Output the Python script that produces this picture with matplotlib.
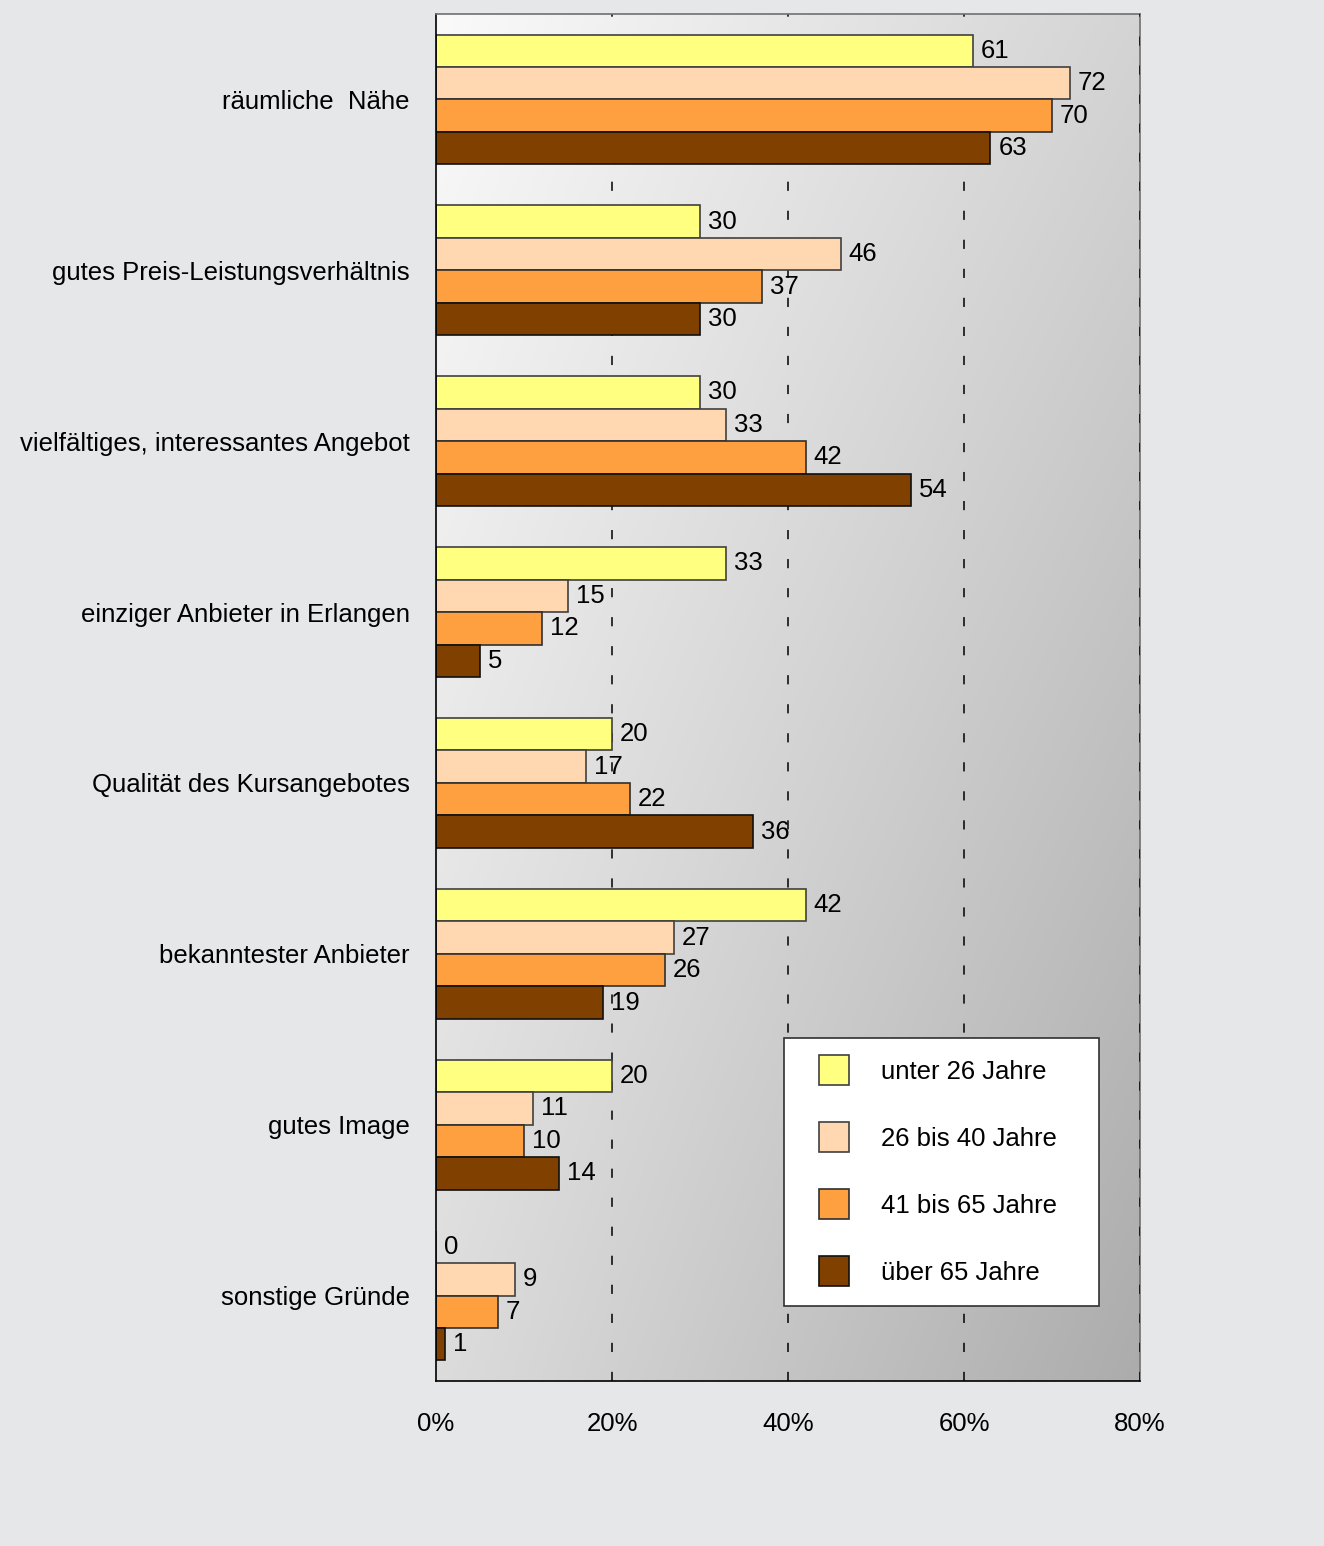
import numpy as np
import matplotlib
matplotlib.use("Agg")
import matplotlib.pyplot as plt
from matplotlib.lines import Line2D

plt.rcParams['font.family'] = ['Liberation Sans', 'DejaVu Sans']

categories = [
    "räumliche  Nähe",
    "gutes Preis-Leistungsverhältnis",
    "vielfältiges, interessantes Angebot",
    "einziger Anbieter in Erlangen",
    "Qualität des Kursangebotes",
    "bekanntester Anbieter",
    "gutes Image",
    "sonstige Gründe",
]
series_names = ["unter 26 Jahre", "26 bis 40 Jahre", "41 bis 65 Jahre", "über 65 Jahre"]
unter_26 = [61, 30, 30, 33, 20, 42, 20, 0]
von_26_bis_40 = [72, 46, 33, 15, 17, 27, 11, 9]
von_41_bis_65 = [70, 37, 42, 12, 22, 26, 10, 7]
ueber_65 = [63, 30, 54, 5, 36, 19, 14, 1]
series_values = [unter_26, von_26_bis_40, von_41_bis_65, ueber_65]
x_ticks = [0, 20, 40, 60, 80]
x_tick_labels = ["0%", "20%", "40%", "60%", "80%"]

colors = ["#ffff80", "#ffd8b2", "#ffa040", "#804000"]
edge_colors = ["#404040", "#404040", "#303030", "#101010"]
FS = 18.5

W, H = 1324, 1546
fig = plt.figure(figsize=(W / 100, H / 100), dpi=100, facecolor="#e6e7e9")
ax = fig.add_axes([436 / W, 1 - 1381 / H, (1140 - 436) / W, (1381 - 14) / H])
ax.set_facecolor("none")

# diagonal grey gradient behind the plot area
gx, gy = np.meshgrid(np.linspace(0, 1, 200), np.linspace(0, 1, 400))
grad = 250 - 38 * gx - 30 * gy - 10 * gx * gy
img = np.dstack([grad, grad, grad]) / 255.0
ax.imshow(img, extent=[0, 1, 0, 1], transform=ax.transAxes, aspect="auto",
          zorder=0, origin="upper", interpolation="bilinear")

n_groups = len(categories)
bar_h = 0.19
y_centers = np.arange(n_groups)

# dashed vertical grid lines (the outermost one sits on top of the right spine)
for xv in x_ticks[1:]:
    z = 3 if xv == x_ticks[-1] else 1
    ax.axvline(xv, color="black", lw=1.1, ls=(0, (6, 13)), zorder=z)

for i, (vals, col, ec) in enumerate(zip(series_values, colors, edge_colors)):
    offs = (i - 1.5) * bar_h
    ys = y_centers + offs
    ax.barh(ys, vals, height=bar_h, color=col, edgecolor=ec, linewidth=1.2, zorder=2)
    for y, v in zip(ys, vals):
        ax.text(v + 0.9, y, str(v), va="center", ha="left", fontsize=FS, zorder=4)

ax.set_xlim(0, 80)
ax.set_ylim(n_groups - 0.5, -0.5)
ax.set_xticks(x_ticks)
ax.set_xticklabels(x_tick_labels, fontsize=FS)
ax.set_yticks(y_centers)
ax.set_yticklabels(categories, fontsize=FS)
ax.tick_params(axis="x", length=0, pad=22)
ax.tick_params(axis="y", length=0, pad=19)

for side in ["top", "right"]:
    ax.spines[side].set_color("#707070")
    ax.spines[side].set_linewidth(1.2)
for side in ["left", "bottom"]:
    ax.spines[side].set_color("black")
    ax.spines[side].set_linewidth(1.2)

handles = [Line2D([], [], ls="none", marker="s", markersize=21.5,
                  markerfacecolor=c, markeredgecolor=ec, markeredgewidth=1.2)
           for c, ec in zip(colors, edge_colors)]
x0 = (784 - 436) / 704
w = (1099 - 784) / 704
y_top = (1381 - 1038) / 1367
leg = ax.legend(handles, series_names, loc="upper left",
                bbox_to_anchor=(x0, y_top - 0.3, w, 0.3), mode="expand",
                borderaxespad=0, fontsize=FS, frameon=True, fancybox=False,
                handlelength=2.18, handletextpad=0.74, labelspacing=1.67,
                borderpad=0.85, edgecolor="#303030", framealpha=1)
leg.get_frame().set_linewidth(1.2)
leg.set_zorder(5)

fig.savefig("out.png", dpi=100, facecolor=fig.get_facecolor())
